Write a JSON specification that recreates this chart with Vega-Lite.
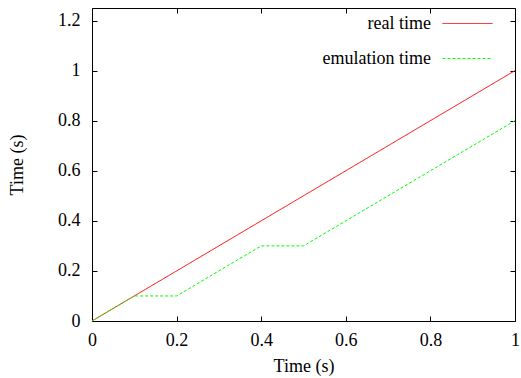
{
  "$schema": "https://vega.github.io/schema/vega-lite/v6.json",
  "width": 423,
  "height": 313,
  "autosize": {"type": "none"},
  "padding": {"left": 92, "top": 8, "right": 6, "bottom": 57},
  "background": "white",
  "config": {
    "view": {"stroke": null},
    "font": "Liberation Serif",
    "axis": {
      "grid": false,
      "domainColor": "black",
      "domainWidth": 1,
      "tickColor": "black",
      "tickSize": -5,
      "labelColor": "black",
      "labelFont": "Liberation Serif",
      "labelFontSize": 18,
      "titleFont": "Liberation Serif",
      "titleFontSize": 18,
      "titleFontWeight": "normal",
      "titleColor": "black",
      "format": "~g"
    }
  },
  "data": {
    "values": [
      {"series": "real time", "t": 0, "v": 0},
      {"series": "real time", "t": 1, "v": 1},
      {"series": "emulation time", "t": 0, "v": 0},
      {"series": "emulation time", "t": 0.1, "v": 0.1},
      {"series": "emulation time", "t": 0.2, "v": 0.1},
      {"series": "emulation time", "t": 0.4, "v": 0.3},
      {"series": "emulation time", "t": 0.5, "v": 0.3},
      {"series": "emulation time", "t": 1, "v": 0.8}
    ]
  },
  "layer": [
    {
      "mark": {"type": "line", "strokeWidth": 1},
      "encoding": {
        "x": {
          "field": "t", "type": "quantitative",
          "scale": {"domain": [0, 1], "nice": false, "zero": false},
          "axis": {"orient": "bottom", "values": [0, 0.2, 0.4, 0.6, 0.8, 1], "format": "~g", "title": "Time (s)", "labelPadding": 15, "titlePadding": 8, "labelFlush": false}
        },
        "y": {
          "field": "v", "type": "quantitative",
          "scale": {"domain": [0, 1.25], "nice": false, "zero": false},
          "axis": {"orient": "left", "values": [0, 0.2, 0.4, 0.6, 0.8, 1, 1.2], "format": "~g", "title": "Time (s)", "labelPadding": 17, "titlePadding": 31}
        },
        "color": {
          "field": "series", "type": "nominal",
          "scale": {"domain": ["real time", "emulation time"], "range": ["#ff0000", "#00ff00"]},
          "legend": {
            "title": null,
            "orient": "none",
            "legendX": 350,
            "legendY": -10,
            "padding": 0,
            "symbolType": "stroke",
            "symbolSize": 2500,
            "symbolStrokeWidth": 1,
            "labelFont": "Liberation Serif",
            "labelFontSize": 18,
            "labelColor": "black",
            "labelAlign": "right",
            "labelOffset": -62,
            "rowPadding": 0
          }
        },
        "strokeDash": {
          "field": "series", "type": "nominal",
          "scale": {"domain": ["real time", "emulation time"], "range": [[1, 0], [3, 2]]},
          "legend": null
        }
      }
    },
    {
      "mark": {"type": "line", "strokeOpacity": 0},
      "encoding": {
        "x": {
          "field": "t", "type": "quantitative",
          "axis": {"orient": "top", "values": [0, 0.2, 0.4, 0.6, 0.8, 1], "labels": false, "title": null}
        },
        "y": {
          "field": "v", "type": "quantitative",
          "axis": {"orient": "right", "values": [0, 0.2, 0.4, 0.6, 0.8, 1, 1.2], "labels": false, "title": null}
        },
        "detail": {"field": "series"}
      }
    }
  ],
  "resolve": {"axis": {"x": "independent", "y": "independent"}}
}
